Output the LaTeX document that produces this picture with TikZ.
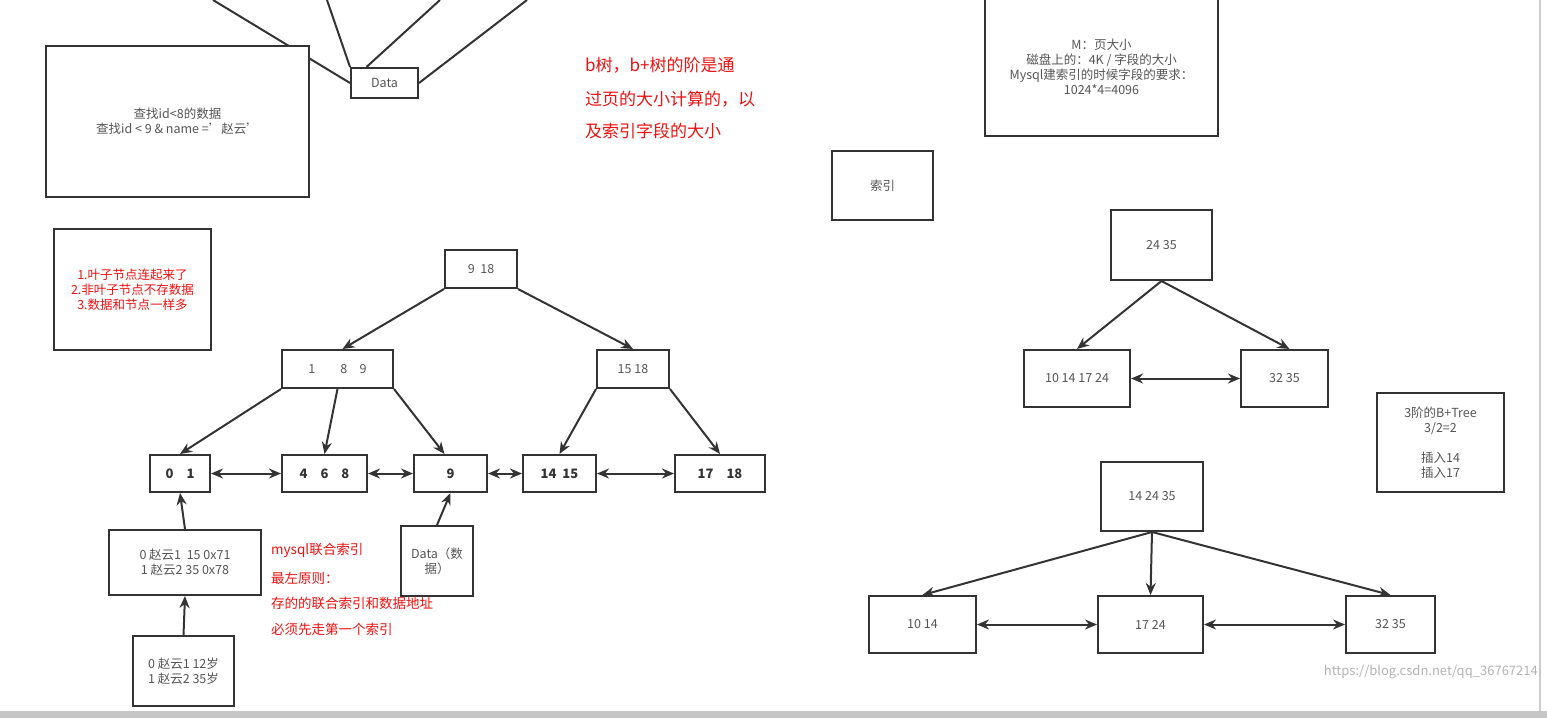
\documentclass[tikz,border=0pt]{standalone}
\usepackage{fontspec}
\setmainfont{Noto Sans CJK SC}
\usetikzlibrary{arrows.meta}
\definecolor{ln}{HTML}{333333}
\definecolor{tx}{HTML}{555555}
\definecolor{rd}{HTML}{EE1111}
\begin{document}
\begin{tikzpicture}[x=1pt,y=-1pt,
 bx/.style={draw=ln,line width=2pt,fill=white,inner sep=0pt,text=tx,font=\fontsize{12.5}{15}\selectfont,align=center},
 lf/.style={bx,font=\fontsize{13}{15}\selectfont\bfseries,text=ln},
 ar/.style={draw=ln,line width=2pt,-{Stealth[length=12pt,width=10pt]}},
 da/.style={draw=ln,line width=2pt,{Stealth[length=12pt,width=10pt]}-{Stealth[length=12pt,width=10pt]}},
 rt/.style={text=rd,anchor=west,font=\fontsize{17}{19}\selectfont,inner sep=0pt}]
\useasboundingbox (0,0) rectangle (1547,718);
\fill[gray!45] (0,711) rectangle (1547,718);
\draw[gray!40,line width=2pt] (1540,0) -- (1540,711);
% top lines
\coordinate (t1) at (213,0); \coordinate (t2) at (327,0); \coordinate (t3) at (440,0); \coordinate (t4) at (527,0);
\node[bx,minimum width=67pt,minimum height=30pt] (data) at (384.5,83) {Data};
\draw[ln,line width=2pt] (t1) -- (data.west);
\draw[ln,line width=2pt] (t2) -- (data.north west);
\draw[ln,line width=2pt] (t3) -- ([xshift=-18pt]data.north);
\draw[ln,line width=2pt] (t4) -- (data.east);
\node[bx,minimum width=263pt,minimum height=151pt] (q) at (177.5,121.5) {查找id<8的数据\\查找id < 9 \& name ='赵云'};
\node[rt] (r1) at (585,65) {b树，b+树的阶是通};
\node[rt] (r2) at (585,99) {过页的大小计算的，以};
\node[rt] (r3) at (585,131) {及索引字段的大小};
\node[bx,minimum width=233pt,minimum height=137pt] (m) at (1101.5,67) {M：页大小\\磁盘上的：4K / 字段的大小\\Mysql建索引的时候字段的要求：\\1024*4=4096};
\node[bx,minimum width=101pt,minimum height=69pt] (idx) at (882.5,185.5) {索引};
\node[bx,minimum width=157pt,minimum height=121pt,text=rd] (note) at (132.5,289.5) {1.叶子节点连起来了\\2.非叶子节点不存数据\\3.数据和节点一样多};
% B+ tree left
\node[bx,minimum width=72pt,minimum height=38pt] (r) at (481,269) {9\ \ 18};
\node[bx,minimum width=111pt,minimum height=38pt] (a) at (337.5,369) {1\qquad 8\quad 9};
\node[bx,minimum width=72pt,minimum height=38pt] (b) at (633,369) {15 18};
\node[lf,minimum width=60pt,minimum height=37pt] (l1) at (180,473.5) {0\quad 1};
\node[lf,minimum width=85pt,minimum height=37pt] (l2) at (324.5,473.5) {4\quad 6\quad 8};
\node[lf,minimum width=73pt,minimum height=37pt] (l3) at (450.5,473.5) {9};
\node[lf,minimum width=73pt,minimum height=37pt] (l4) at (559.5,473.5) {14\ \ 15};
\node[lf,minimum width=90pt,minimum height=37pt] (l5) at (720,473.5) {17\quad 18};
\draw[ar] (r.south west) -- ([xshift=5pt]a.north);
\draw[ar] (r.south east) -- (b.north);
\draw[ar] (a.south west) -- (l1.north);
\draw[ar] (a.south) -- (l2.north);
\draw[ar] (a.south east) -- ([xshift=-6pt]l3.north);
\draw[ar] (b.south west) -- (l4.north);
\draw[ar] (b.south east) -- (l5.north);
\draw[da] (l1) -- (l2);
\draw[da] (l2) -- (l3);
\draw[da] (l3) -- (l4);
\draw[da] (l4) -- (l5);
\node[bx,minimum width=152pt,minimum height=65pt] (c1) at (185,562.5) {0 赵云1\ \ 15 0x71\\1 赵云2 35 0x78};
\node[bx,minimum width=101pt,minimum height=70pt] (c2) at (183.5,671) {0 赵云1 12岁\\1 赵云2 35岁};
\node[bx,minimum width=72pt,minimum height=70pt] (dd) at (437,561) {Data（数\\据）};
\draw[ar] (c1.north) -- (l1.south);
\draw[ar] (c2.north) -- (c1.south);
\draw[ar] (dd.north) -- (l3.south);
\node[rt,font=\fontsize{13.5}{15}\selectfont] (s1) at (271,550) {mysql联合索引};
\node[rt,font=\fontsize{13.5}{15}\selectfont] (s2) at (271,578) {最左原则：};
\node[rt,font=\fontsize{13.5}{15}\selectfont] (s3) at (271,603) {存的的联合索引和数据地址};
\node[rt,font=\fontsize{13.5}{15}\selectfont] (s4) at (271,629) {必须先走第一个索引};
% right trees
\node[bx,minimum width=101pt,minimum height=70pt] (u) at (1161.5,245) {24 35};
\node[bx,minimum width=106pt,minimum height=57pt] (u1) at (1077,378.5) {10 14 17 24};
\node[bx,minimum width=87pt,minimum height=57pt] (u2) at (1284.5,378.5) {32 35};
\draw[ar] (u.south) -- (u1.north);
\draw[ar] (u.south) -- ([xshift=5pt]u2.north);
\draw[da] (u1) -- (u2);
\node[bx,minimum width=127pt,minimum height=99pt] (n3) at (1440.5,442.5) {3阶的B+Tree\\3/2=2\\\\插入14\\插入17};
\node[bx,minimum width=102pt,minimum height=69pt] (v) at (1152,496.5) {14 24 35};
\node[bx,minimum width=107pt,minimum height=57pt] (v1) at (922.5,624.5) {10 14};
\node[bx,minimum width=105pt,minimum height=57pt] (v2) at (1150.5,624.5) {17 24};
\node[bx,minimum width=89pt,minimum height=57pt] (v3) at (1390.5,624.5) {32 35};
\draw[ar] (v.south) -- (v1.north);
\draw[ar] (v.south) -- (v2.north);
\draw[ar] (v.south) -- (v3.north);
\draw[da] (v1) -- (v2);
\draw[da] (v2) -- (v3);
\node[anchor=east,text=gray!60,font=\fontsize{13}{15}\selectfont,inner sep=0pt] (wm) at (1538,672) {https://blog.csdn.net/qq\_36767214};
\end{tikzpicture}
\end{document}
